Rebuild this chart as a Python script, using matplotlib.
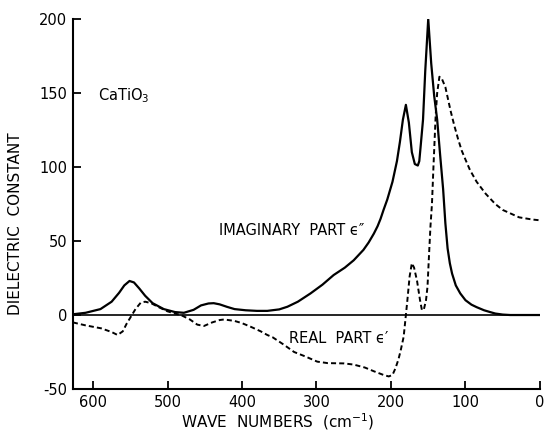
import matplotlib
matplotlib.use('Agg')
import matplotlib.pyplot as plt

plt.rcParams['axes.unicode_minus'] = False
plt.rcParams['font.family'] = ['DejaVu Sans']

# imaginary part eps'' (solid)
wn_imag = [627, 610, 590, 575, 565, 558, 551, 545, 538, 530, 520, 505, 490, 478,
           465, 455, 445, 438, 430, 420, 410, 395, 380, 366, 350, 339, 325, 308,
           292, 277, 262, 250, 237, 230, 223, 218, 214, 210, 205, 198, 192, 188,
           184, 180, 176, 172, 168, 164, 162, 160, 157, 154, 150, 146, 142, 138,
           134, 130, 127, 124, 121, 118, 113, 107, 100, 92, 85, 75, 67, 60, 50,
           40, 0]
eps_imag = [0.5, 1.5, 4, 9, 15, 20, 23, 22, 18, 13, 8, 4, 2, 1.5,
            3.5, 6.5, 7.8, 8, 7.2, 5.5, 4, 3.2, 2.8, 2.8, 3.8, 5.6, 9, 14.6,
            20.5, 27, 32, 37, 44, 49, 55, 60, 65, 71, 78, 90, 104, 117,
            132, 142, 130, 110, 102, 101, 104, 115, 132, 165, 200, 170, 148, 132,
            108, 85, 62, 45, 35, 28, 20, 14.6, 10, 7, 5.3, 3.2, 2, 1, 0.3,
            0, 0]

# real part eps' (dashed)
wn_real = [627, 610, 589, 575, 567, 560, 555, 549, 543, 536, 530, 522, 513, 500,
           490, 482, 470, 460, 451, 440, 430, 424, 410, 400, 388, 375, 366, 359,
           344, 330, 315, 299, 285, 263, 250, 235, 223, 210, 203, 198, 194, 190,
           187, 183, 180, 178, 175, 172, 169, 165, 161, 158.5, 156, 153, 151, 149,
           147, 145, 143, 140, 138, 135, 132, 127, 120, 115, 110, 105, 100, 94,
           85, 73, 60, 50, 28, 10, 0]
eps_real = [-5, -7, -9, -11.5, -13.5, -11, -6, -1, 4, 8.3, 9, 8, 5.6, 2.5,
            1, 0, -3, -6.5, -7.4, -5, -3.4, -3, -4, -5.5, -8, -11, -13.5, -15,
            -20, -25, -28, -31.5, -32.5, -32.7, -33.5, -35.5, -38, -40.5, -41.5, -40.5, -36, -30,
            -24, -14.7, 0, 10, 26, 35, 32, 23, 10, 3.4, 3.5, 10, 19, 40,
            60, 75, 100, 135, 150, 161, 160, 154, 138, 128, 119, 111, 105, 98,
            90, 82, 75, 71, 66, 64.5, 64]

xticks = [600, 500, 400, 300, 200, 100, 0]
yticks = [200, 150, 100, 50, 0, -50]

fig = plt.figure(figsize=(5.44, 4.37), dpi=100)
ax = fig.add_axes([0.134, 0.1098, 0.8586, 0.8467])

ax.axhline(0, color='black', lw=1.2)
ax.plot(wn_imag, eps_imag, color='black', lw=1.6)
ax.plot(wn_real, eps_real, color='black', lw=1.4, dashes=(2.6, 1.6))

ax.set_xlim(627, 0)
ax.set_ylim(-50, 200)
ax.set_xticks(xticks)
ax.set_yticks(yticks)
ax.spines['top'].set_visible(False)
ax.spines['right'].set_visible(False)
for s in ('left', 'bottom'):
    ax.spines[s].set_linewidth(1.5)
ax.tick_params(direction='in', length=6, width=1.3, labelsize=10.5, pad=4)

ax.text(593, 148, 'CaTiO$_3$', fontsize=10.5, va='center')
ax.text(431, 57, 'IMAGINARY  PART \u03f5\u2033', fontsize=10.5, va='center')
ax.text(337, -16, 'REAL  PART \u03f5\u2032', fontsize=10.5, va='center')

fig.text(0.028, 0.487, 'DIELECTRIC  CONSTANT', rotation=90, fontsize=11,
         ha='center', va='center')
fig.text(0.511, 0.034, 'WAVE  NUMBERS  (cm$^{-1}$)', fontsize=11,
         ha='center', va='center')

fig.savefig('out.png', dpi=100)
